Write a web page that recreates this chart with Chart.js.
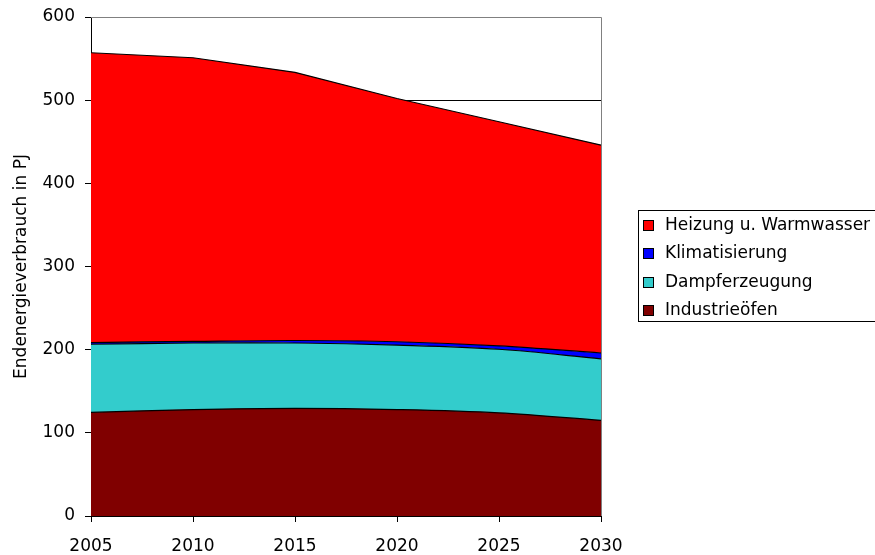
<!DOCTYPE html>
<html>
<head>
<meta charset="utf-8">
<script src="https://cdn.jsdelivr.net/npm/chart.js@4"></script>
<style>
  html, body { margin: 0; padding: 0; background: #fff; }
  #wrap { width: 875px; height: 555px; }
</style>
</head>
<body>
<div id="wrap"><canvas id="chart" width="875" height="555"></canvas></div>
<script>
const years = ["2005", "2010", "2015", "2020", "2025", "2030"];
// stacked from bottom to top
const industrieoefen = [124.5, 128, 129.5, 128, 124, 115];
const dampferzeugung = [82, 80, 78.5, 77.5, 76.5, 74];
const klimatisierung = [2, 2, 3, 4, 4, 7];
const heizung = [348.5, 341, 322.5, 292.5, 269.5, 250];

const FONT = "'DejaVu Sans', sans-serif";
const FSIZE = 17;

// gray frame on top/right and a boxed legend like the original
const framePlugin = {
  id: "frame",
  afterDraw(chart) {
    const { ctx, chartArea: a } = chart;
    ctx.save();
    ctx.strokeStyle = "#808080";
    ctx.lineWidth = 1;
    ctx.beginPath();
    ctx.moveTo(a.left, a.top + 0.5);
    ctx.lineTo(a.right + 0.5, a.top + 0.5);
    ctx.lineTo(a.right + 0.5, a.bottom);
    ctx.stroke();

    // legend, top series first
    const items = chart.data.datasets.slice().reverse();
    const x0 = 638, y0 = 210, rowH = 28.4;
    ctx.strokeStyle = "#000";
    ctx.strokeRect(x0 + 0.5, y0 + 0.5, 300, 111);
    ctx.font = FSIZE + "px " + FONT;
    ctx.textBaseline = "middle";
    items.forEach((ds, i) => {
      const cy = Math.round(y0 + 15 + i * rowH);
      ctx.fillStyle = ds.backgroundColor;
      ctx.fillRect(x0 + 5.5, cy - 4.5, 10, 10);
      ctx.strokeRect(x0 + 5.5, cy - 4.5, 10, 10);
      ctx.fillStyle = "#000";
      ctx.fillText(ds.label, x0 + 27, cy + 1);
    });
    ctx.restore();
  }
};

const mk = (label, data, color, fill, tension) => ({
  label, data, fill,
  backgroundColor: color,
  borderColor: "#000",
  borderWidth: 1.2,
  pointRadius: 0,
  tension
});

new Chart(document.getElementById("chart"), {
  type: "line",
  data: {
    labels: years,
    datasets: [
      mk("Industrieöfen", industrieoefen, "#800000", "origin", 0.35),
      mk("Dampferzeugung", dampferzeugung, "#33CCCC", "-1", 0.35),
      mk("Klimatisierung", klimatisierung, "#0000FF", "-1", 0.35),
      mk("Heizung u. Warmwasser", heizung, "#FF0000", "-1", 0)
    ]
  },
  plugins: [framePlugin],
  options: {
    responsive: false,
    animation: false,
    layout: { padding: { top: 17, right: 274, left: 0, bottom: 0 } },
    plugins: { legend: { display: false }, tooltip: { enabled: false } },
    scales: {
      x: {
        type: "category",
        offset: false,
        grid: { drawOnChartArea: false, color: "#000", tickColor: "#000", tickLength: 6 },
        border: { color: "#000" },
        ticks: { color: "#000", font: { family: FONT, size: FSIZE }, maxRotation: 0, padding: 14 },
        afterFit: s => { s.height = 39; }
      },
      y: {
        stacked: true,
        min: 0, max: 600,
        grid: {
          color: c => (c.tick && c.tick.value === 600 ? "rgba(0,0,0,0)" : "#000"),
          tickColor: "#000", tickLength: 6
        },
        border: { color: "#000" },
        ticks: { stepSize: 100, color: "#000", font: { family: FONT, size: FSIZE }, padding: 10 },
        title: {
          display: true, text: "Endenergieverbrauch in PJ", color: "#000",
          font: { family: FONT, size: FSIZE }, padding: { top: 11, bottom: 0 }
        },
        afterFit: s => { s.width = 91; s.paddingTop = 0; s.paddingBottom = 0; }
      }
    }
  }
});
</script>
</body>
</html>
